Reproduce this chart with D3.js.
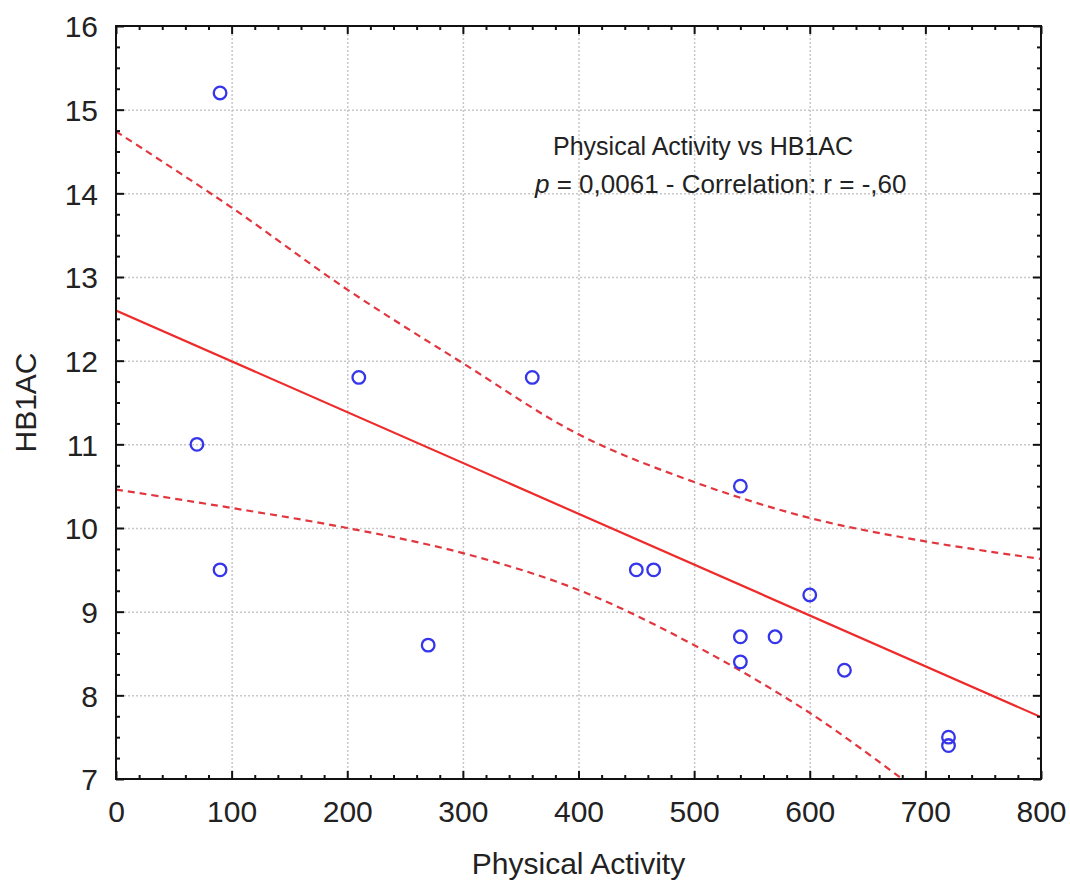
<!DOCTYPE html>
<html>
<head>
<meta charset="utf-8">
<script src="https://cdn.jsdelivr.net/npm/d3@7"></script>
<style>
    body { margin: 0; background: #fff; }
    svg { display: block; font-family: 'Liberation Sans', Arial, sans-serif; }
    .grid line { stroke: #c8c8c8; stroke-width: 1.5; stroke-dasharray: 2,2; }
    .grid path { display: none; }
    .axis path { display: none; }
    .axis line { stroke: #111; stroke-width: 2; }
    .axis text { font-size: 30px; fill: #222; }
</style>
</head>
<body>
<svg></svg>
<script>
var activity = [90, 70, 90, 210, 360, 270, 450, 465, 540, 540, 540, 570, 600, 630, 720, 720];
var hb1ac    = [15.2, 11.0, 9.5, 11.8, 11.8, 8.6, 9.5, 9.5, 10.5, 8.7, 8.4, 8.7, 9.2, 8.3, 7.5, 7.4];

// regression line and 95% band
var fitX = [0, 800];
var fitY = [12.6, 7.74];
var upperX = [0, 100, 200, 300, 400, 500, 600, 700, 800];
var upperY = [14.74, 13.83, 12.85, 11.97, 11.12, 10.55, 10.12, 9.84, 9.63];
var lowerX = [0, 100, 200, 300, 400, 500, 600, 680];
var lowerY = [10.46, 10.24, 10.0, 9.7, 9.26, 8.6, 7.79, 7.0];

var xTicks = [0, 100, 200, 300, 400, 500, 600, 700, 800];
var yTicks = [7, 8, 9, 10, 11, 12, 13, 14, 15, 16];
var xMinor = d3.range(0, 801, 20).filter(function (v) { return v % 100 !== 0; });
var yMinor = d3.range(7, 16.001, 0.25).filter(function (v) { return Math.abs(v - Math.round(v)) > 0.01; });

var title1 = 'Physical Activity vs HB1AC';
var xLabel = 'Physical Activity';
var yLabel = 'HB1AC';

var W = 1070, H = 884;
var L = 116, R = 29, T = 26, B = 105;
var w = W - L - R, h = H - T - B;

var svg = d3.select('svg').attr('width', W).attr('height', H);

var x = d3.scaleLinear().domain([0, 800]).range([0, w]);
var y = d3.scaleLinear().domain([7, 16]).range([h, 0]);

var g = svg.append('g').attr('transform', 'translate(' + L + ',' + T + ')');

svg.append('defs').append('clipPath').attr('id', 'clip')
    .append('rect').attr('width', w).attr('height', h);

// grid
g.append('g').attr('class', 'grid')
    .call(d3.axisBottom(x).tickValues(xTicks.slice(1, -1)).tickSize(h).tickFormat(''));
g.append('g').attr('class', 'grid')
    .call(d3.axisLeft(y).tickValues(yTicks.slice(1, -1)).tickSize(-w).tickFormat(''));

// lines
var lines = g.append('g').attr('clip-path', 'url(#clip)');
function pts(xs, ys) { return xs.map(function (v, i) { return [x(v), y(ys[i])]; }); }
var line = d3.line();
var smooth = d3.line().curve(d3.curveCatmullRom);

lines.append('path')
    .attr('d', smooth(pts(upperX, upperY)))
    .attr('fill', 'none').attr('stroke', '#e2363e').attr('stroke-width', 2.2)
    .attr('stroke-dasharray', '7,5');
lines.append('path')
    .attr('d', smooth(pts(lowerX, lowerY)))
    .attr('fill', 'none').attr('stroke', '#e2363e').attr('stroke-width', 2.2)
    .attr('stroke-dasharray', '7,5');
lines.append('path')
    .attr('d', line(pts(fitX, fitY)))
    .attr('fill', 'none').attr('stroke', '#ee2a2a').attr('stroke-width', 2.2);

// points
g.append('g').selectAll('circle')
    .data(activity)
    .enter()
    .append('circle')
    .attr('cx', function (d) { return x(d); })
    .attr('cy', function (d, i) { return y(hb1ac[i]); })
    .attr('r', 6.3)
    .attr('fill', 'none')
    .attr('stroke', '#3535ea')
    .attr('stroke-width', 2.3);

// axes: labelled bottom / left, plain top / right, minor ticks on all
g.append('g').attr('class', 'axis').attr('transform', 'translate(0,' + h + ')')
    .call(d3.axisBottom(x).tickValues(xTicks).tickSizeInner(-8).tickSizeOuter(0).tickPadding(22));
g.append('g').attr('class', 'axis')
    .call(d3.axisLeft(y).tickValues(yTicks).tickSizeInner(-8).tickSizeOuter(0).tickPadding(18))
    .selectAll('text').attr('dy', '0.36em');
g.append('g').attr('class', 'axis')
    .call(d3.axisTop(x).tickValues(xTicks).tickSize(-8).tickFormat(''));
g.append('g').attr('class', 'axis').attr('transform', 'translate(' + w + ',0)')
    .call(d3.axisRight(y).tickValues(yTicks).tickSize(-8).tickFormat(''));

g.append('g').attr('class', 'axis').attr('transform', 'translate(0,' + h + ')')
    .call(d3.axisBottom(x).tickValues(xMinor).tickSize(-4).tickFormat(''));
g.append('g').attr('class', 'axis')
    .call(d3.axisTop(x).tickValues(xMinor).tickSize(-4).tickFormat(''));
g.append('g').attr('class', 'axis')
    .call(d3.axisLeft(y).tickValues(yMinor).tickSize(-4).tickFormat(''));
g.append('g').attr('class', 'axis').attr('transform', 'translate(' + w + ',0)')
    .call(d3.axisRight(y).tickValues(yMinor).tickSize(-4).tickFormat(''));

// frame
g.append('rect')
    .attr('width', w).attr('height', h)
    .attr('fill', 'none').attr('stroke', '#111').attr('stroke-width', 2);

// annotation
g.append('text')
    .attr('x', 553 - L).attr('y', 155 - T)
    .attr('font-size', 25).attr('fill', '#222')
    .text(title1);
var t2 = g.append('text')
    .attr('x', 535 - L).attr('y', 193 - T)
    .attr('font-size', 26).attr('fill', '#222');
t2.append('tspan').attr('font-style', 'italic').text('p');
t2.append('tspan').text(' = 0,0061 - Correlation: r = -,60');

// axis titles
svg.append('text')
    .attr('x', L + w / 2).attr('y', 874)
    .attr('text-anchor', 'middle')
    .attr('font-size', 30).attr('fill', '#222')
    .text(xLabel);
svg.append('text')
    .attr('transform', 'translate(36,' + (T + h / 2) + ') rotate(-90)')
    .attr('text-anchor', 'middle')
    .attr('font-size', 30).attr('fill', '#222')
    .text(yLabel);
</script>
</body>
</html>
